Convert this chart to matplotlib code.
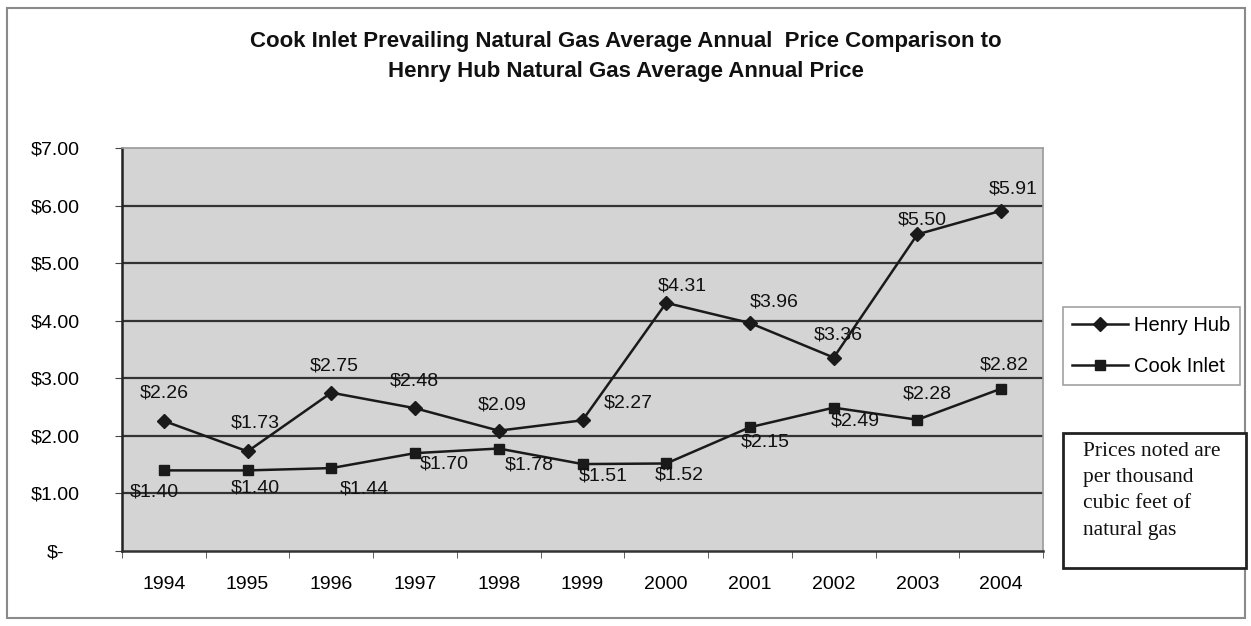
import matplotlib
matplotlib.use("Agg")
import matplotlib.pyplot as plt
from matplotlib.patches import Rectangle
from matplotlib.lines import Line2D

# ---- data ----
years = ["1994", "1995", "1996", "1997", "1998", "1999", "2000", "2001", "2002", "2003", "2004"]
henry_hub = [2.26, 1.73, 2.75, 2.48, 2.09, 2.27, 4.31, 3.96, 3.36, 5.50, 5.91]
cook_inlet = [1.40, 1.40, 1.44, 1.70, 1.78, 1.51, 1.52, 2.15, 2.49, 2.28, 2.82]
y_ticks = [0, 1, 2, 3, 4, 5, 6, 7]
y_tick_labels = ["$-", "$1.00", "$2.00", "$3.00", "$4.00", "$5.00", "$6.00", "$7.00"]
title_lines = ["Cook Inlet Prevailing Natural Gas Average Annual  Price Comparison to",
               "Henry Hub Natural Gas Average Annual Price"]
note_lines = ["Prices noted are", "per thousand", "cubic feet of", "natural gas"]

# label offsets in pixels (style)
hh_off = [(0, 28), (8, 28), (3, 27), (-1, 27), (3, 26), (46, 17), (16, 17), (24, 21), (5, 23), (5, 14), (12, 22)]
ci_off = [(-10, -22), (8, -18), (33, -21), (29, -11), (30, -16), (21, -12), (13, -12), (15, -15), (22, -13), (10, 26), (3, 24)]

plt.rcParams['font.family'] = ['Liberation Sans', 'DejaVu Sans']

W, H = 1251, 626
fig = plt.figure(figsize=(W / 100, H / 100), dpi=100)
fig.patch.set_facecolor("white")

# outer chart border
fig.patches.append(Rectangle((7 / W, 1 - 618 / H), (1245 - 7) / W, (618 - 8) / H,
                             transform=fig.transFigure, fill=False, edgecolor="#8a8a8a", lw=1.5))

ax = fig.add_axes([122 / W, 1 - 551 / H, (1043 - 122) / W, (551 - 148) / H])
ax.set_facecolor("#d4d4d4")
x = list(range(len(years)))

for v in y_ticks[1:-1]:
    ax.axhline(v, color="#333333", lw=1.6, zorder=1)

ax.plot(x, henry_hub, color="#1a1a1a", lw=1.8, marker="D", ms=7, zorder=3, label="Henry Hub")
ax.plot(x, cook_inlet, color="#1a1a1a", lw=1.8, marker="s", ms=7.5, zorder=3, label="Cook Inlet")

for i, v in enumerate(henry_hub):
    ax.annotate(f"${v:.2f}", (i, v), xytext=hh_off[i], textcoords="offset pixels",
                ha="center", va="center", fontsize=14, color="#111111", zorder=4)
for i, v in enumerate(cook_inlet):
    ax.annotate(f"${v:.2f}", (i, v), xytext=ci_off[i], textcoords="offset pixels",
                ha="center", va="center", fontsize=14, color="#111111", zorder=4)

ax.set_xlim(-0.5, len(years) - 0.5)
ax.set_ylim(0, 7)
ax.set_xticks(x)
ax.set_xticklabels(years, fontsize=14)
ax.set_xticks([i - 0.5 for i in range(len(years) + 1)], minor=True)
ax.tick_params(axis="x", which="major", length=0, pad=18)
ax.tick_params(axis="x", which="minor", length=5, color="#444444")
ax.set_yticks(y_ticks)
ax.set_yticklabels(y_tick_labels, fontsize=14)
ax.tick_params(axis="y", length=5, pad=43, color="#444444")
for lab in ax.get_yticklabels():
    lab.set_horizontalalignment("center")

ax.spines["left"].set_color("#222222")
ax.spines["left"].set_linewidth(1.8)
ax.spines["bottom"].set_color("#333333")
ax.spines["bottom"].set_linewidth(1.8)
ax.spines["top"].set_color("#9a9a9a")
ax.spines["top"].set_linewidth(1.2)
ax.spines["right"].set_color("#9a9a9a")
ax.spines["right"].set_linewidth(1.2)

# title
fig.text(626 / W, 1 - 42 / H, title_lines[0], ha="center", va="center",
         fontsize=16, fontweight="bold", color="#111111")
fig.text(626 / W, 1 - 72 / H, title_lines[1], ha="center", va="center",
         fontsize=16, fontweight="bold", color="#111111")

# legend
handles = [Line2D([], [], color="#1a1a1a", lw=1.8, marker="D", ms=7),
           Line2D([], [], color="#1a1a1a", lw=1.8, marker="s", ms=7.5)]
leg = fig.legend(handles, ["Henry Hub", "Cook Inlet"], loc="upper left",
                 bbox_to_anchor=(1063 / W, 1 - 307 / H), borderaxespad=0,
                 fontsize=14.5, frameon=True, fancybox=False, handlelength=2.8,
                 handletextpad=0.3, labelspacing=1.1, borderpad=0.45)
leg.get_frame().set_edgecolor("#8a8a8a")
leg.get_frame().set_linewidth(1.2)

# note box
fig.patches.append(Rectangle((1063 / W, 1 - 568 / H), (1246 - 1063) / W, (568 - 433) / H,
                             transform=fig.transFigure, fill=True, facecolor="white",
                             edgecolor="#222222", lw=2))
for k, line in enumerate(note_lines):
    fig.text(1083 / W, 1 - (451 + 26.5 * k) / H, line, ha="left", va="center",
             fontsize=15.5, family=["Liberation Serif", "DejaVu Serif"], color="#111111")

fig.savefig("out.png", dpi=100)
